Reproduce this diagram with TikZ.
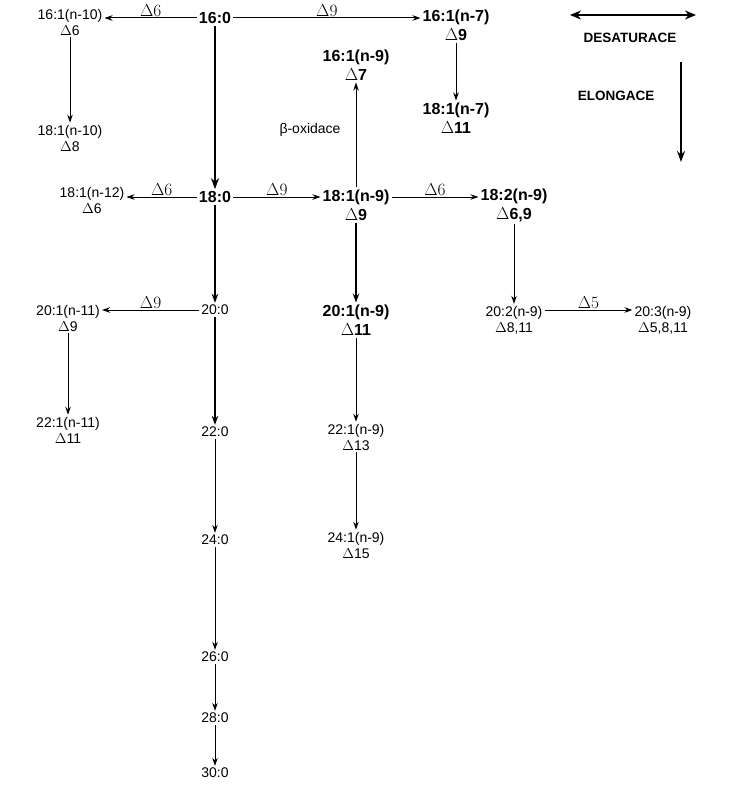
\documentclass[tikz,border=0pt]{standalone}
\usepackage{fontspec}
\setmainfont{Liberation Sans}
\usetikzlibrary{arrows.meta}
\begin{document}
\begin{tikzpicture}[x=1pt,y=-1pt,
  sm/.style={font=\fontsize{14}{16}\selectfont,align=center,inner sep=2pt},
  bd/.style={font=\fontsize{16}{19}\selectfont\bfseries,align=center,inner sep=2pt},
  ar/.style={-{Stealth[length=8pt,width=5.5pt]},line width=1pt},
  tk/.style={-{Stealth[length=11pt,width=8pt]},line width=2.4pt},
  md/.style={-{Stealth[length=9pt,width=6.5pt]},line width=1.6pt},
  lb/.style={font=\fontsize{16}{16}\selectfont,inner sep=1pt}]
\useasboundingbox (0,0) rectangle (736,800);
\node[bd] (a) at (215,18) {16:0};
\node[sm] (b) at (70,22) {16:1(n-10)\\$\Delta$6};
\node[bd] (c) at (456,25) {16:1(n-7)\\$\Delta$9};
\node[bd] (d) at (356,65) {16:1(n-9)\\$\Delta$7};
\node[bd] (e) at (456,118) {18:1(n-7)\\$\Delta$11};
\node[sm] (f) at (70,138) {18:1(n-10)\\$\Delta$8};
\node[sm] (g) at (92,200) {18:1(n-12)\\$\Delta$6};
\node[bd] (h) at (215,197) {18:0};
\node[bd] (i) at (356,205) {18:1(n-9)\\$\Delta$9};
\node[bd] (j) at (514,205) {18:2(n-9)\\$\Delta$6,9};
\node[sm] (k) at (68,318) {20:1(n-11)\\$\Delta$9};
\node[sm] (l) at (215,310) {20:0};
\node[bd] (m) at (356,320) {20:1(n-9)\\$\Delta$11};
\node[sm] (n) at (514,320) {20:2(n-9)\\$\Delta$8,11};
\node[sm] (o) at (663,320) {20:3(n-9)\\$\Delta$5,8,11};
\node[sm] (p) at (68,430) {22:1(n-11)\\$\Delta$11};
\node[sm] (q) at (215,432) {22:0};
\node[sm] (r) at (356,437) {22:1(n-9)\\$\Delta$13};
\node[sm] (s) at (215,540) {24:0};
\node[sm] (t) at (356,545) {24:1(n-9)\\$\Delta$15};
\node[sm] (u) at (215,657) {26:0};
\node[sm] (v) at (215,718) {28:0};
\node[sm] (w) at (215,773) {30:0};
\node[sm] (beta) at (310,130) {β-oxidace};
\coordinate (x1) at (570,15); \coordinate (x2) at (696,15);
\draw[{Stealth[length=11pt,width=9pt]}-{Stealth[length=11pt,width=9pt]},line width=2.4pt] (x1) -- (x2);
\node[bd,font=\fontsize{13.5}{15}\selectfont\bfseries] (des) at (630,38) {DESATURACE};
\node[bd,font=\fontsize{13.5}{15}\selectfont\bfseries] (elo) at (616,96) {ELONGACE};
\coordinate (y1) at (681,62); \coordinate (y2) at (681,162);
\draw[tk] (y1) -- (y2);
\draw[ar] (a) -- node[lb,above]{$\Delta6$} (b.east|-a);
\draw[ar] (a) -- node[lb,above]{$\Delta9$} (c.west|-a);
\draw[tk] (a) -- (h);
\draw[ar] (b) -- (f);
\draw[ar] (c) -- (e);
\draw[ar] (h) -- node[lb,above]{$\Delta6$} (g.east|-h);
\draw[ar] (h) -- node[lb,above]{$\Delta9$} (i.west|-h);
\draw[ar] (i) -- (d);
\draw[ar] (i.east|-h) -- node[lb,above]{$\Delta6$} (j.west|-h);
\draw[md] (h) -- (l);
\draw[md] (i) -- (m);
\draw[ar] (j) -- (n);
\draw[ar] (n.east|-l) -- node[lb,above]{$\Delta5$} (o.west|-l);
\draw[ar] (l) -- node[lb,above]{$\Delta9$} (k.east|-l);
\draw[ar] (k) -- (p);
\draw[md] (l) -- (q);
\draw[ar] (q) -- (s);
\draw[ar] (s) -- (u);
\draw[ar] (u) -- (v);
\draw[ar] (v) -- (w);
\draw[ar] (m) -- (r);
\draw[ar] (r) -- (t);
\end{tikzpicture}
\end{document}
